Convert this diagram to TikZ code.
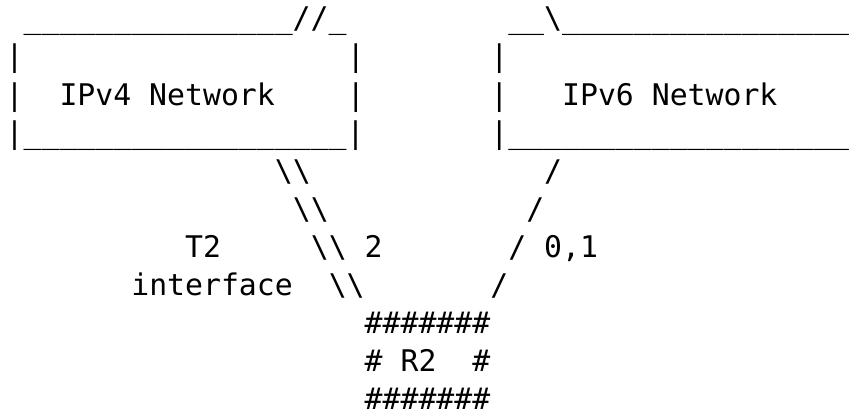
\documentclass[tikz,border=0pt]{standalone}
\usepackage{fontspec}
\setmonofont{DejaVu Sans Mono}
\usepackage{tikz}

\newcommand{\unders}[1]{\foreach \u in {1,...,#1}{\_}}
\newcommand{\bsl}{\textbackslash}

\begin{document}
\begin{tikzpicture}[x=17.95pt,y=-38.1pt,
  every node/.style={font=\ttfamily\fontsize{29.8pt}{38pt}\selectfont, anchor=base west, inner sep=0pt}]
  \useasboundingbox (-5.5pt,28.8pt) rectangle (850.5pt,-384.2pt);
  % IPv4 network box
  \node (v4top) at (1,0) {\unders{15}//\_};
  \node (v4l1) at (0,1) {|};
  \node (v4r1) at (19,1) {|};
  \node (v4l2) at (0,2) {|};
  \node (v4txt) at (3,2) {IPv4 Network};
  \node (v4r2) at (19,2) {|};
  \node (v4bot) at (0,3) {|\unders{18}|};
  % IPv6 network box
  \node (v6top) at (28,0) {\_\_\bsl\unders{16}};
  \node (v6l1) at (27,1) {|};
  \node (v6l2) at (27,2) {|};
  \node (v6txt) at (31,2) {IPv6 Network};
  \node (v6bot) at (27,3) {|\unders{19}};
  % links down to R2
  \foreach \r in {4,...,7} {
    \node (lnkA\r) at (11+\r,\r) {\bsl\bsl};
    \node (lnkB\r) at (34-\r,\r) {/};
  }
  \node (t2) at (10,6) {T2};
  \node (t2if) at (7,7) {interface};
  \node (ifv4) at (20,6) {2};
  \node (ifv6) at (30,6) {0,1};
  % R2
  \node (r2top) at (20,8) {\#\#\#\#\#\#\#};
  \node (r2l) at (20,9) {\#};
  \node (r2txt) at (22,9) {R2};
  \node (r2r) at (26,9) {\#};
  \node (r2bot) at (20,10) {\#\#\#\#\#\#\#};
\end{tikzpicture}
\end{document}
